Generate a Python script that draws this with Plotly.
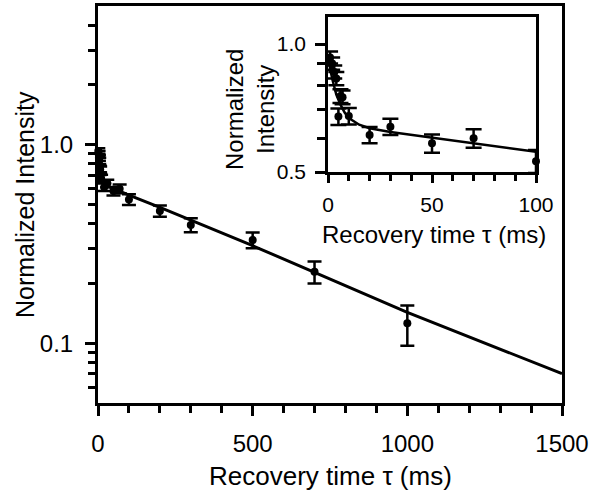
import plotly.graph_objects as go
import math

# ---- data ----
time_ms = [1, 2, 3, 4, 5, 6, 7, 10, 20, 30, 50, 70, 100, 200, 300, 500, 700, 1000]
intensity = [0.93, 0.90, 0.86, 0.83, 0.675, 0.755, 0.75, 0.677, 0.611, 0.639, 0.584, 0.600, 0.530,
             0.464, 0.394, 0.331, 0.229, 0.126]
intensity_err = [0.03, 0.03, 0.03, 0.03, 0.03, 0.028, 0.028, 0.03, 0.027, 0.028, 0.029, 0.03, 0.033,
                 0.03, 0.032, 0.03, 0.029, 0.029]

fit_time = [0, 2, 4, 6, 8, 10, 15, 20, 30, 50, 70, 100, 200, 500, 1000, 1500]
fit_int = [0.93, 0.83, 0.76, 0.72, 0.69, 0.67, 0.646, 0.634, 0.621, 0.602, 0.585, 0.558, 0.484,
           0.310, 0.143, 0.0703]

main_x_ticks = [0, 500, 1000, 1500]
main_y_ticks = [0.1, 1.0]
main_y_ticktext = ["0.1", "1.0"]
main_y_minor = [0.06, 0.07, 0.08, 0.09, 0.2, 0.3, 0.4, 0.5, 0.6, 0.7, 0.8, 0.9, 2, 3, 4]
inset_x_ticks = [0, 50, 100]
inset_y_ticks = [0.5, 1.0]
inset_y_ticktext = ["0.5", "1.0"]
inset_y_minor = [0.6, 0.7, 0.8, 0.9]

W, H = 589, 493
FONT = "Liberation Sans, Arial, sans-serif"

def px_dom_x(a, b):
    return [a / W, b / W]

def px_dom_y(top, bottom):
    return [1 - bottom / H, 1 - top / H]

ins_t = [t for t in time_ms if t <= 100]
ins_i = [v for t, v in zip(time_ms, intensity) if t <= 100]
ins_e = [e for t, e in zip(time_ms, intensity_err) if t <= 100]
ins_ft = [t for t in fit_time if t <= 100]
ins_fi = [v for t, v in zip(fit_time, fit_int) if t <= 100]

fig = go.Figure()
# main
fig.add_trace(go.Scatter(x=fit_time, y=fit_int, mode="lines",
                         line=dict(color="black", width=3), xaxis="x", yaxis="y",
                         showlegend=False, cliponaxis=True))
fig.add_trace(go.Scatter(x=time_ms, y=intensity, mode="markers",
                         marker=dict(color="black", size=8),
                         error_y=dict(type="data", array=intensity_err, color="black",
                                      thickness=2.5, width=7),
                         xaxis="x", yaxis="y", showlegend=False, cliponaxis=False))
# inset
fig.add_trace(go.Scatter(x=ins_ft, y=ins_fi, mode="lines",
                         line=dict(color="black", width=2.5), xaxis="x2", yaxis="y2",
                         showlegend=False))
fig.add_trace(go.Scatter(x=ins_t, y=ins_i, mode="markers",
                         marker=dict(color="black", size=8),
                         error_y=dict(type="data", array=ins_e, color="black",
                                      thickness=2.5, width=8),
                         xaxis="x2", yaxis="y2", showlegend=False, cliponaxis=False))

axis_common = dict(showgrid=False, zeroline=False, showline=True, linecolor="black",
                   ticks="outside", tickcolor="black", mirror=True, automargin=False)

fig.update_layout(
    template="none",
    width=W, height=H, margin=dict(l=0, r=0, t=0, b=0, autoexpand=False),
    paper_bgcolor="white", plot_bgcolor="white",
    font=dict(family=FONT, color="black"),
    xaxis=dict(domain=px_dom_x(98, 562), range=[0, 1500], tickvals=main_x_ticks,
               linewidth=3, ticklen=10, tickwidth=2.5, tickfont=dict(size=24),
               ticklabelstandoff=7,
               minor=dict(dtick=100, ticks="outside", ticklen=7, tickwidth=2.5, tickcolor="black"),
               anchor="y", **axis_common),
    yaxis=dict(domain=px_dom_y(6, 403), type="log", range=[math.log10(0.05), math.log10(5)],
               tickvals=main_y_ticks, ticktext=main_y_ticktext,
               linewidth=3, ticklen=10, tickwidth=2.5, tickfont=dict(size=24),
               ticklabelstandoff=7,
               minor=dict(tickvals=main_y_minor, ticks="outside", ticklen=7, tickwidth=2.5,
                          tickcolor="black"),
               anchor="x", **axis_common),
    xaxis2=dict(domain=px_dom_x(328, 536), range=[0, 100], tickvals=inset_x_ticks,
                linewidth=2.5, ticklen=8, tickwidth=2.5, tickfont=dict(size=21),
                ticklabelstandoff=4,
                minor=dict(dtick=10, ticks="outside", ticklen=6, tickwidth=2.5, tickcolor="black"),
                anchor="y2", **axis_common),
    yaxis2=dict(domain=px_dom_y(17, 172), type="log", range=[math.log10(0.5), math.log10(1.158)],
                tickvals=inset_y_ticks, ticktext=inset_y_ticktext,
                linewidth=2.5, ticklen=10, tickwidth=2.5, tickfont=dict(size=21),
                ticklabelstandoff=5,
                minor=dict(tickvals=inset_y_minor, ticks="outside", ticklen=8, tickwidth=2.5,
                           tickcolor="black"),
                anchor="x2", **axis_common),
    annotations=[
        dict(text="Recovery time τ (ms)", x=330 / W, y=1 - 476 / H, xref="paper", yref="paper",
             showarrow=False, font=dict(size=26), xanchor="center", yanchor="middle"),
        dict(text="Normalized Intensity", x=25 / W, y=1 - 205 / H, xref="paper", yref="paper",
             showarrow=False, font=dict(size=25), textangle=-90, xanchor="center", yanchor="middle"),
        dict(text="Recovery time τ (ms)", x=434 / W, y=1 - 234 / H, xref="paper", yref="paper",
             showarrow=False, font=dict(size=24), xanchor="center", yanchor="middle"),
        dict(text="Normalized<br>Intensity", x=250 / W, y=1 - 110 / H, xref="paper", yref="paper",
             showarrow=False, font=dict(size=24), textangle=-90, xanchor="center", yanchor="middle"),
    ],
)

fig.write_html("out.html")
